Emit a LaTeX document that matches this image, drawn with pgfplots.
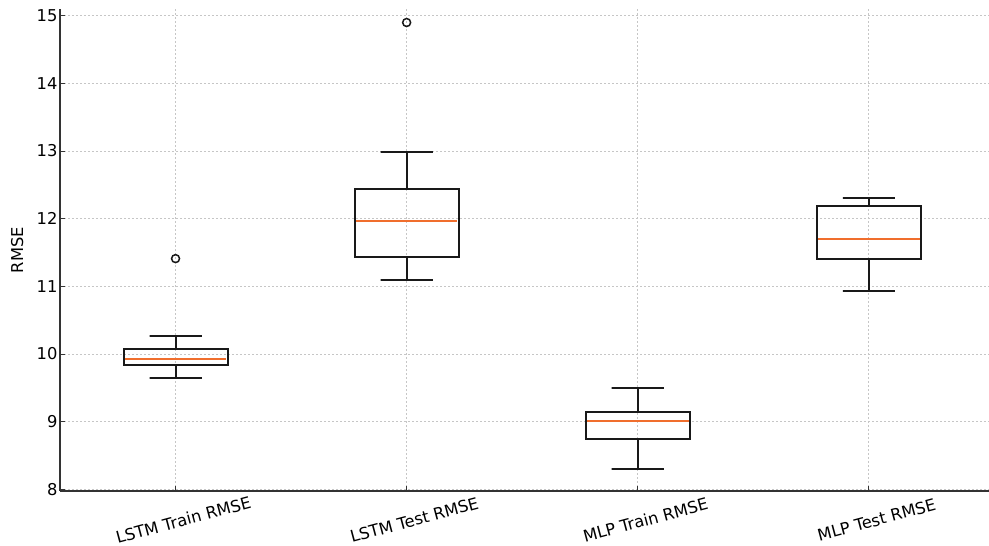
\documentclass[border=0pt]{standalone}
\usepackage{pgfplots}
\pgfplotsset{compat=1.18}
\usepackage{fontspec}
\setmainfont{DejaVu Sans}
\definecolor{mplorange}{RGB}{240,110,45}
\definecolor{spine}{RGB}{51,51,51}
\definecolor{boxc}{RGB}{25,25,25}
\begin{document}
\begin{tikzpicture}
\path[use as bounding box] (-60pt,-55pt) rectangle (929pt,491pt);
\begin{axis}[
  at={(0pt,0pt)}, anchor=south west,
  scale only axis, width=929pt, height=482pt,
  xmin=0.5, xmax=4.52, ymin=7.975, ymax=15.10,
  axis x line*=bottom, axis y line*=left,
  axis line style={spine, line width=1.8pt},
  xtick={1,2,3,4},
  xticklabels={LSTM Train RMSE, LSTM Test RMSE, MLP Train RMSE, MLP Test RMSE},
  ytick={8,9,10,11,12,13,14,15},
  tick align=inside, major tick length=5pt,
  tick style={spine, line width=1pt},
  grid=major,
  major grid style={gray!45, line width=0.8pt, dash pattern=on 2pt off 2pt},
  /pgf/number format/assume math mode=true,
  tick label style={font=\fontsize{16.3}{19}\selectfont, text=black},
  xticklabel style={rotate=15, anchor=center, yshift=-30pt},
  yticklabel style={xshift=1pt},
  ylabel={RMSE},
  ylabel style={font=\fontsize{16.3}{19}\selectfont, at={(axis description cs:-0.046,0.5)}, anchor=center, rotate=0},
  clip=false,
  every axis plot/.append style={line join=miter},
]
% ---- LSTM Train RMSE (position 1) ----
\addplot[boxc, line width=2pt] coordinates {(0.775,9.84) (1.225,9.84) (1.225,10.07) (0.775,10.07)} -- cycle;
\addplot[boxc, line width=2pt] coordinates {(1,9.84) (1,9.65) (0.8875,9.65) (1.1125,9.65)};
\addplot[boxc, line width=2pt] coordinates {(1,10.07) (1,10.27) (0.8875,10.27) (1.1125,10.27)};
\addplot[mplorange, line width=1.9pt] coordinates {(0.78,9.93) (1.22,9.93)};
\addplot[only marks, mark=o, mark size=4pt, mark options={boxc, line width=1.5pt}] coordinates {(1,11.41)};
% ---- LSTM Test RMSE (position 2) ----
\addplot[boxc, line width=2pt] coordinates {(1.775,11.43) (2.225,11.43) (2.225,12.44) (1.775,12.44)} -- cycle;
\addplot[boxc, line width=2pt] coordinates {(2,11.43) (2,11.10) (1.8875,11.10) (2.1125,11.10)};
\addplot[boxc, line width=2pt] coordinates {(2,12.44) (2,12.99) (1.8875,12.99) (2.1125,12.99)};
\addplot[mplorange, line width=1.9pt] coordinates {(1.78,11.96) (2.22,11.96)};
\addplot[only marks, mark=o, mark size=4pt, mark options={boxc, line width=1.5pt}] coordinates {(2,14.90)};
% ---- MLP Train RMSE (position 3) ----
\addplot[boxc, line width=2pt] coordinates {(2.775,8.74) (3.225,8.74) (3.225,9.14) (2.775,9.14)} -- cycle;
\addplot[boxc, line width=2pt] coordinates {(3,8.74) (3,8.30) (2.8875,8.30) (3.1125,8.30)};
\addplot[boxc, line width=2pt] coordinates {(3,9.14) (3,9.50) (2.8875,9.50) (3.1125,9.50)};
\addplot[mplorange, line width=1.9pt] coordinates {(2.78,9.01) (3.22,9.01)};
% ---- MLP Test RMSE (position 4) ----
\addplot[boxc, line width=2pt] coordinates {(3.775,11.41) (4.225,11.41) (4.225,12.19) (3.775,12.19)} -- cycle;
\addplot[boxc, line width=2pt] coordinates {(4,11.41) (4,10.93) (3.8875,10.93) (4.1125,10.93)};
\addplot[boxc, line width=2pt] coordinates {(4,12.19) (4,12.31) (3.8875,12.31) (4.1125,12.31)};
\addplot[mplorange, line width=1.9pt] coordinates {(3.78,11.70) (4.22,11.70)};
\end{axis}
\end{tikzpicture}
\end{document}
